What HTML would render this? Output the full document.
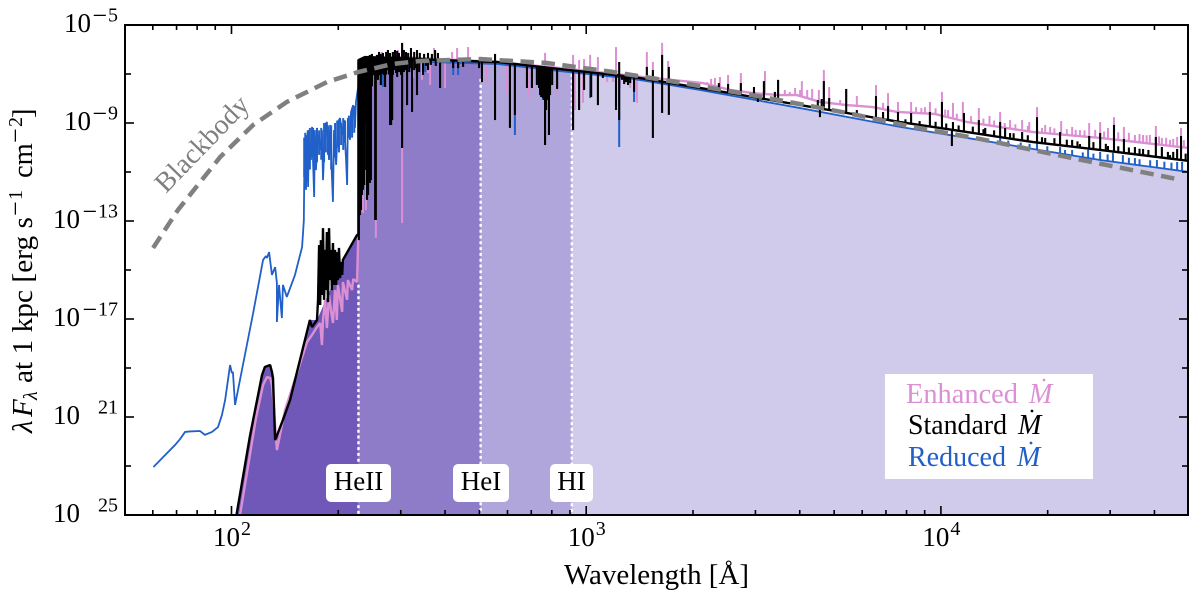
<!DOCTYPE html>
<html lang="en">
<head>
<meta charset="utf-8">
<title>Spectral energy distribution</title>
<style>
html,body{margin:0;padding:0;background:#fff;width:1200px;height:604px;overflow:hidden}
svg{display:block}
text{font-family:"Liberation Serif","DejaVu Serif",serif;fill:#000}
</style>
</head>
<body>
<svg id="chart" xmlns="http://www.w3.org/2000/svg" width="1200" height="604" viewBox="0 0 1200 604">
<defs><clipPath id="plot-clip"><rect x="125" y="25" width="1063" height="490"/></clipPath><clipPath id="shade-clip"><path id="shade-path" d=""/></clipPath></defs>
<g id="marks" clip-path="url(#plot-clip)"></g>
<g id="axes"></g>
<g>
<rect x="326" y="464" width="65" height="38" rx="5" fill="#fff"/>
<text x="358.5" y="490" font-size="27" text-anchor="middle">HeII</text>
<rect x="453" y="464" width="56" height="38" rx="5" fill="#fff"/>
<text x="481" y="490" font-size="27" text-anchor="middle">HeI</text>
<rect x="550" y="464" width="43" height="38" rx="5" fill="#fff"/>
<text x="571.5" y="490" font-size="27" text-anchor="middle">HI</text>
</g>
<text transform="translate(166,194) rotate(-46)" font-size="28" textLength="122" lengthAdjust="spacingAndGlyphs" style="fill:#808080">Blackbody</text>
<g>
<rect x="885" y="374" width="208" height="105" fill="#fff"/>
<text x="906" y="403" font-size="28" textLength="112" lengthAdjust="spacingAndGlyphs" style="fill:#dc90d4">Enhanced</text>
<text x="1029" y="403" font-size="28" font-style="italic" style="fill:#dc90d4">M</text>
<circle cx="1044" cy="380" r="1.4" fill="#dc90d4"/>
<text x="908" y="434" font-size="28" textLength="99" lengthAdjust="spacingAndGlyphs">Standard</text>
<text x="1018" y="434" font-size="28" font-style="italic">M</text>
<circle cx="1032" cy="411" r="1.4" fill="#000"/>
<text x="908" y="466" font-size="28" textLength="98" lengthAdjust="spacingAndGlyphs" style="fill:#2060c8">Reduced</text>
<text x="1017" y="466" font-size="28" font-style="italic" style="fill:#2060c8">M</text>
<circle cx="1031" cy="443" r="1.4" fill="#2060c8"/>
</g>
<text x="564" y="584" font-size="28.5" textLength="185" lengthAdjust="spacingAndGlyphs">Wavelength [Å]</text>
<g>
<text transform="translate(32,433) rotate(-90)" font-size="29" font-style="italic">λ</text>
<text transform="translate(32,417) rotate(-90)" font-size="29" font-style="italic">F</text>
<text transform="translate(37,400) rotate(-90)" font-size="20" font-style="italic">λ</text>
<text transform="translate(32,383) rotate(-90)" font-size="28.5" textLength="166" lengthAdjust="spacingAndGlyphs">at 1 kpc [erg s</text>
<text transform="translate(24,216) rotate(-90)" font-size="26">−</text>
<text transform="translate(22,200) rotate(-90)" font-size="20">1</text>
<text transform="translate(32,178) rotate(-90)" font-size="28.5">cm</text>
<text transform="translate(24,143) rotate(-90)" font-size="26">−</text>
<text transform="translate(22,127) rotate(-90)" font-size="20">2</text>
<text transform="translate(32,118) rotate(-90)" font-size="28.5">]</text>
</g>
</svg>
<script>
// Axis tick data
const xTickExp = [2, 3, 4];
const xMinorTicks = [60, 70, 80, 90, 200, 300, 400, 500, 600, 700, 800, 900, 2000, 3000, 4000, 5000, 6000, 7000, 8000, 9000, 20000, 30000, 40000];
const yTickExp = [-5, -9, -13, -17, -21, -25];
const yMinorExp = [-7, -11, -15, -19, -23];
// Ionization edges in Angstrom
const edgeWavelengths = [228, 504, 911];
const edgeDotTopFlux = [-15.6, -7.2, -7.0];
const bandColors = ['#7058b8', '#8e7cc8', '#b1a6dc', '#d0cbea'];
// Blackbody (log wavelength, log flux)
const blackbodyLogL = [1.779, 1.849, 1.968, 2.061, 2.156, 2.269, 2.357, 2.455, 2.531, 2.701, 2.889, 3.076, 3.256, 3.498, 3.735, 3.921, 4.110, 4.356, 4.666];
const blackbodyLogF = [-14.10, -12.55, -10.39, -9.08, -8.14, -7.33, -6.92, -6.59, -6.47, -6.39, -6.55, -6.92, -7.33, -7.94, -8.59, -9.16, -9.65, -10.39, -11.29];
// Shaded envelope
const shadeLogL = [2.014, 2.052, 2.086, 2.094, 2.109, 2.114, 2.117, 2.123, 2.145, 2.165, 2.221, 2.241, 2.278, 2.314, 2.354, 2.358, 2.358, 2.475, 2.749, 2.926, 3.132, 3.321, 3.603, 3.885, 4.074, 4.260, 4.449, 4.70];
const shadeLogF = [-25, -21.78, -19.29, -18.96, -18.88, -19.16, -19.41, -21.94, -21.12, -20.31, -17.04, -17.04, -15.82, -14.67, -13.57, -13.57, -6.43, -6.35, -6.51, -6.80, -7.12, -7.65, -8.39, -9.16, -9.61, -10.06, -10.51, -11.00];
// Reduced mass-loss spectrum
const reducedLogL = [1.780, 1.813, 1.841, 1.855, 1.869, 1.883, 1.911, 1.925, 1.945, 1.962, 1.973, 1.982, 1.996, 2.001, 2.004, 2.010, 2.061, 2.089, 2.097, 2.100, 2.106, 2.114, 2.123, 2.128, 2.128, 2.134, 2.142, 2.145, 2.156, 2.179, 2.199, 2.204, 2.204, 2.206, 2.210, 2.213, 2.216, 2.218, 2.224, 2.227, 2.233, 2.235, 2.238, 2.244, 2.250, 2.255, 2.258, 2.264, 2.269, 2.275, 2.278, 2.283, 2.286, 2.289, 2.295, 2.300, 2.306, 2.312, 2.317, 2.323, 2.326, 2.328, 2.334, 2.337, 2.343, 2.348, 2.351, 2.357, 2.362, 2.749, 2.926, 3.132, 3.321, 3.603, 3.885, 4.074, 4.260, 4.449, 4.70];
const reducedLogF = [-23.04, -22.55, -22.14, -21.90, -21.61, -21.59, -21.57, -21.73, -21.61, -21.41, -20.92, -20.31, -18.88, -19.20, -19.16, -20.51, -16.76, -14.59, -14.43, -14.51, -14.27, -15.20, -14.88, -15.53, -17.12, -15.61, -16.96, -15.61, -16.10, -15.20, -14.06, -12.96, -12.84, -9.90, -11.73, -9.49, -11.61, -9.29, -10.51, -9.16, -12.02, -9.29, -10.92, -9.49, -10.10, -9.29, -11.33, -9.08, -8.96, -10.51, -9.08, -11.12, -12.22, -9.29, -10.71, -8.96, -8.80, -9.49, -8.88, -10.51, -11.53, -8.80, -9.69, -8.55, -8.27, -9.20, -8.14, -7.53, -6.43, -6.59, -6.88, -7.20, -7.65, -8.39, -9.16, -9.61, -10.06, -10.51, -11.00];
const reducedLineLogL = [2.427, 2.546, 2.625, 2.639, 2.799, 2.878, 3.011, 3.093, 3.135, 4.167, 4.271, 4.336, 4.370, 4.415, 4.449, 4.485, 4.513, 4.547, 4.609, 4.666, 4.680, 4.19, 4.225, 4.25, 4.30, 4.35, 4.40, 4.43, 4.47, 4.53, 4.56, 4.59, 4.63, 4.65];
const reducedLineLogF = [-7.53, -6.92, -7.04, -7.04, -9.49, -8.06, -7.98, -9.98, -8.14, -9.61, -9.78, -9.98, -10.10, -10.10, -10.18, -10.22, -10.31, -10.43, -10.51, -10.59, -10.59, -9.72, -9.80, -9.85, -9.95, -10.10, -10.20, -10.25, -10.28, -10.42, -10.48, -10.52, -10.58, -10.62];
// Densely packed lines in the reduced-spectrum forest below the HeII edge
const reducedForestLogL = [2.205, 2.208, 2.212, 2.215, 2.221, 2.230, 2.241, 2.247, 2.253, 2.261, 2.266, 2.272, 2.281, 2.292, 2.298, 2.303, 2.309, 2.315, 2.320, 2.331, 2.340, 2.346];
const reducedForestLowLogF = [-11.2, -10.8, -11.0, -10.6, -10.9, -10.4, -10.6, -10.3, -10.5, -10.6, -10.2, -10.3, -10.9, -10.4, -10.0, -10.2, -9.9, -10.1, -9.8, -9.6, -9.6, -9.4];
const reducedForestHighLogF = [-9.6, -9.4, -9.5, -9.3, -9.2, -9.2, -9.2, -9.3, -9.2, -9.0, -9.0, -9.1, -9.1, -9.0, -8.9, -8.9, -9.0, -8.8, -8.9, -8.7, -8.4, -8.3];
// Enhanced mass-loss spectrum
const enhancedLogL = [2.024, 2.069, 2.089, 2.100, 2.109, 2.114, 2.120, 2.128, 2.151, 2.213, 2.227, 2.241, 2.250, 2.255, 2.258, 2.264, 2.269, 2.275, 2.281, 2.286, 2.292, 2.297, 2.300, 2.312, 2.314, 2.326, 2.328, 2.340, 2.343, 2.354, 2.357, 2.358, 2.475, 2.749, 2.926, 3.132, 3.329, 3.406, 3.470, 3.546, 3.594, 3.659, 3.735, 3.808, 3.876, 3.983, 4.074, 4.260, 4.449, 4.70];
const enhancedLogF = [-25, -21.04, -19.69, -19.37, -19.41, -19.69, -20.71, -22.35, -20.71, -17.94, -17.65, -17.33, -17.16, -18.06, -17.04, -16.22, -17.37, -16.02, -16.71, -17.16, -15.82, -17.04, -15.61, -16.71, -15.49, -16.22, -15.41, -15.82, -15.37, -15.49, -13.78, -6.43, -6.31, -6.51, -6.76, -7.08, -7.37, -7.65, -7.78, -7.86, -7.86, -8.14, -8.27, -8.35, -8.55, -8.63, -8.96, -9.37, -9.61, -10.02];
const enhancedLineLogL = [2.424, 2.469, 2.481, 2.571, 2.622, 2.636, 2.667, 2.884, 2.963, 2.980, 2.994, 3.011, 3.033, 3.084, 3.171, 3.188, 3.214, 3.231, 3.329, 3.341, 3.352, 3.363, 3.377, 3.400, 3.436, 3.504, 3.541, 3.608, 3.623, 3.637, 3.656, 3.670, 3.685, 3.716, 3.733, 3.763, 3.817, 3.837, 3.851, 3.879, 3.916, 3.969, 4.003, 4.034, 4.062, 4.107, 4.167, 4.195, 4.229, 4.271, 4.308, 4.339, 4.370, 4.418, 4.449, 4.488, 4.516, 4.547, 4.570, 4.606, 4.623, 4.666, 4.677, 3.945, 4.020, 4.137, 4.249, 4.294, 4.392, 4.471, 4.589, 4.646, 3.560, 3.574, 3.589, 3.603, 2.379, 2.388, 2.371, 2.407, 2.481, 2.560, 2.602, 2.512, 2.537, 2.554, 2.720, 2.777, 2.836, 2.850, 2.918, 2.968, 2.991, 3.059, 3.076, 3.095, 3.124, 3.143, 3.93, 3.955, 3.985, 4.012, 4.045, 4.085, 4.12, 4.15, 4.18, 4.21, 4.245, 4.285, 4.32, 4.355, 4.38, 4.405, 4.435, 4.46, 4.50, 4.53, 4.56, 4.58, 4.615, 4.635, 4.655, 4.685];
const enhancedLineLogF = [-6.10, -6.02, -5.94, -5.94, -6.10, -5.94, -5.90, -6.14, -6.22, -6.43, -6.39, -6.22, -6.31, -5.90, -6.10, -6.51, -5.73, -6.47, -7.33, -7.33, -7.20, -7.16, -7.12, -7.04, -6.96, -6.88, -7.24, -7.29, -7.65, -7.61, -7.65, -6.84, -7.53, -8.06, -7.61, -7.90, -7.45, -8.18, -7.78, -8.14, -8.14, -8.14, -7.73, -8.18, -8.14, -8.39, -8.55, -8.88, -8.88, -8.35, -9.16, -8.92, -9.16, -9.00, -8.96, -8.76, -9.16, -9.49, -9.49, -9.12, -9.61, -9.57, -9.20, -8.39, -8.47, -8.71, -8.96, -9.08, -9.29, -9.20, -9.49, -9.69, -7.65, -7.73, -7.57, -7.65, -12.55, -11.12, -12.67, -13.69, -13.08, -7.45, -7.57, -7.16, -7.24, -6.96, -7.37, -7.78, -7.94, -7.73, -7.78, -8.47, -8.18, -7.33, -7.33, -7.57, -7.57, -8.18, -8.35, -8.35, -8.40, -8.45, -8.62, -8.72, -8.82, -8.90, -9.00, -9.05, -9.12, -9.20, -9.22, -9.25, -9.28, -9.30, -9.28, -9.35, -9.38, -9.40, -9.45, -9.50, -9.55, -9.60, -9.65, -9.70];
// Standard mass-loss spectrum
const standardLogL = [2.014, 2.052, 2.086, 2.094, 2.109, 2.114, 2.117, 2.123, 2.145, 2.165, 2.221, 2.227, 2.241, 2.244, 2.247, 2.250, 2.252, 2.255, 2.258, 2.261, 2.264, 2.266, 2.269, 2.272, 2.275, 2.278, 2.281, 2.283, 2.286, 2.289, 2.292, 2.295, 2.297, 2.300, 2.303, 2.306, 2.309, 2.312, 2.314, 2.354, 2.358, 2.358, 2.376, 2.475, 2.588, 2.749, 2.926, 3.132, 3.321, 3.603, 3.885, 4.074, 4.260, 4.449, 4.70];
const standardLogF = [-25, -21.78, -19.29, -18.96, -18.88, -19.16, -19.41, -21.94, -21.12, -20.31, -17.04, -17.33, -17.04, -16.22, -13.98, -16.43, -13.78, -16.02, -13.29, -16.22, -14.18, -15.82, -13.45, -16.31, -13.29, -15.41, -14.18, -15.82, -13.90, -15.61, -14.18, -15.61, -14.27, -15.41, -14.10, -15.33, -14.67, -15.20, -14.59, -13.57, -13.57, -6.43, -6.31, -6.35, -6.43, -6.51, -6.80, -7.12, -7.57, -8.27, -8.96, -9.37, -9.78, -10.10, -10.55];
const standardLineLogL = [2.359, 2.362, 2.365, 2.368, 2.371, 2.374, 2.376, 2.382, 2.385, 2.390, 2.393, 2.405, 2.407, 2.413, 2.421, 2.433, 2.447, 2.450, 2.453, 2.467, 2.481, 2.495, 2.509, 2.523, 2.540, 2.554, 2.588, 2.625, 2.639, 2.653, 2.698, 2.706, 2.743, 2.785, 2.799, 2.833, 2.847, 2.861, 2.867, 2.870, 2.873, 2.875, 2.878, 2.881, 2.884, 2.887, 2.889, 2.892, 2.895, 2.898, 2.904, 2.918, 2.963, 2.980, 2.994, 3.014, 3.033, 3.084, 3.093, 3.135, 3.188, 3.214, 3.233, 3.101, 3.107, 3.112, 3.118, 3.124, 3.047, 3.484, 3.659, 3.589, 4.031, 2.481, 2.743, 3.093, 3.171, 3.188, 3.214, 3.233, 2.382, 2.390, 2.396, 2.405, 2.410, 2.416, 2.421, 2.427, 2.436, 2.441, 2.447, 2.455, 2.461, 2.467, 2.472, 2.486, 2.492, 2.498, 2.506, 2.515, 2.523, 2.531, 2.543, 2.554, 2.565, 2.574, 2.582, 2.399, 2.419, 2.430, 2.439, 2.444, 2.455, 2.458, 2.464, 2.472, 2.478, 2.486, 2.489, 2.501, 2.503, 2.515, 2.520, 2.529, 2.548, 2.562, 2.576, 3.374, 3.400, 3.436, 3.473, 3.501, 3.532, 3.541, 3.653, 3.664, 3.670, 3.685, 3.733, 3.763, 3.817, 3.837, 3.851, 3.879, 3.916, 3.969, 4.003, 4.034, 4.065, 4.107, 4.167, 4.181, 4.229, 4.271, 4.336, 4.370, 4.418, 4.449, 4.488, 4.516, 4.547, 4.570, 4.606, 4.623, 4.666, 4.677, 4.125, 4.195, 4.294, 4.392, 4.471, 4.589, 4.646, 2.379, 2.388, 2.396, 2.400, 2.402, 2.411, 2.416, 2.424, 2.436, 3.90, 3.94, 3.985, 4.015, 4.05, 4.09, 4.12, 4.15, 4.205, 4.245, 4.285, 4.32, 4.355, 4.385, 4.43, 4.465, 4.50, 4.53, 4.56, 4.585, 4.64, 4.655, 4.69];
const standardLineLogF = [-13.78, -12.76, -12.55, -11.94, -11.73, -11.53, -10.92, -12.14, -11.94, -11.45, -11.33, -12.96, -12.96, -7.24, -7.45, -7.53, -9.08, -9.08, -8.88, -7.12, -10.02, -8.27, -8.55, -7.86, -7.04, -6.84, -7.57, -6.76, -6.76, -6.71, -6.76, -7.33, -8.88, -9.20, -8.67, -7.57, -7.57, -7.45, -7.57, -7.86, -7.94, -7.86, -7.98, -8.06, -9.90, -8.47, -8.06, -8.06, -9.49, -7.86, -7.45, -7.61, -9.29, -8.47, -7.65, -7.94, -8.27, -8.47, -8.88, -7.73, -9.61, -8.59, -8.67, -7.24, -7.41, -7.33, -7.45, -7.37, -7.16, -8.14, -8.76, -8.18, -9.94, -5.73, -6.18, -6.51, -6.71, -6.84, -6.22, -6.71, -6.27, -6.22, -6.18, -6.31, -6.22, -6.10, -6.18, -6.14, -6.10, -6.02, -6.14, -6.10, -6.02, -6.06, -6.14, -6.02, -6.10, -6.14, -5.94, -6.10, -6.02, -6.14, -6.18, -6.14, -6.18, -6.02, -6.14, -6.84, -6.92, -7.04, -6.84, -7.02, -7.04, -6.84, -6.96, -6.92, -7.04, -6.92, -6.84, -6.92, -6.76, -6.84, -6.76, -6.92, -6.67, -6.63, -6.67, -7.37, -7.41, -7.37, -7.53, -7.29, -7.73, -7.24, -8.06, -8.02, -7.29, -7.98, -7.61, -8.47, -7.90, -8.55, -8.31, -8.55, -8.59, -8.55, -8.14, -8.96, -8.59, -8.88, -8.96, -9.20, -9.37, -8.76, -9.37, -9.69, -9.53, -9.41, -9.08, -9.65, -9.98, -10.06, -9.57, -9.98, -10.06, -9.53, -9.20, -9.41, -9.61, -9.86, -9.94, -10.31, -10.31, -9.00, -9.20, -7.50, -7.05, -7.00, -7.10, -7.05, -7.00, -7.02, -8.85, -8.92, -8.95, -9.02, -9.10, -9.15, -9.25, -9.30, -9.42, -9.50, -9.58, -9.62, -9.68, -9.75, -9.78, -9.85, -9.95, -10.00, -10.05, -10.10, -10.18, -10.18, -10.25];

// Axis functions
const SVGNS = 'http://www.w3.org/2000/svg';
function xScale(logL) { return 231.5 + (logL - 2) * 354.7; }
function yScale(logF) { return 25 + (-5 - logF) * 24.5; }
function pathFrom(ls, fs) {
  let d = '';
  for (let i = 0; i < ls.length; i++) {
    d += (i ? 'L' : 'M') + xScale(ls[i]).toFixed(2) + ' ' + yScale(fs[i]).toFixed(2);
  }
  return d;
}
function fluxAt(l, ls, fs) {
  for (let i = ls.length - 2; i >= 0; i--) {
    if (l >= ls[i] && l <= ls[i + 1] && ls[i + 1] > ls[i]) {
      return fs[i] + (fs[i + 1] - fs[i]) * (l - ls[i]) / (ls[i + 1] - ls[i]);
    }
  }
  return fs[fs.length - 1];
}
function make(tag, attrs, parent) {
  const el = document.createElementNS(SVGNS, tag);
  for (const k in attrs) el.setAttribute(k, attrs[k]);
  parent.appendChild(el);
  return el;
}
const marks = document.getElementById('marks');
const axes = document.getElementById('axes');

// Shaded ionization bands
document.getElementById('shade-path').setAttribute('d', pathFrom(shadeLogL, shadeLogF) + 'L' + xScale(shadeLogL[shadeLogL.length - 1]) + ' 520L' + xScale(shadeLogL[0]) + ' 520Z');
const bandEdges = [Math.log10(50)].concat(edgeWavelengths.map(Math.log10), [Math.log10(50000)]);
const bands = make('g', { 'clip-path': 'url(#shade-clip)' }, marks);


for (let i = 0; i < bandColors.length; i++) {
  const r = make('rect', { x: xScale(bandEdges[i]), y: 20, width: xScale(bandEdges[i + 1]) - xScale(bandEdges[i]), height: 500, fill: bandColors[i] }, bands);
  
  
}
// Edge dotted lines
for (let i = 0; i < edgeWavelengths.length; i++) {
  const ex = xScale(Math.log10(edgeWavelengths[i]));
  const e = make('line', { x1: ex, x2: ex, y1: yScale(edgeDotTopFlux[i]), y2: 515, stroke: '#fff', 'stroke-width': 2.4, 'stroke-dasharray': '3 2.8' }, marks);
  
  
}
// Spectra
function drawSeries(name, ls, fs, lineLs, lineFs, color, w, lw) {
  const g = make('g', { fill: 'none', stroke: color, 'stroke-linejoin': 'bevel' }, marks);
  
  
  const p = make('path', { d: pathFrom(ls, fs), 'stroke-width': w }, g);
  
  
  for (let i = 0; i < lineLs.length; i++) {
    const x = xScale(lineLs[i]);
    const l = make('line', { x1: x, x2: x, y1: yScale(fluxAt(lineLs[i], ls, fs)), y2: yScale(lineFs[i]), 'stroke-width': lw }, g);
    
    
  }
  return g;
}
drawSeries('enhanced-spectrum', enhancedLogL, enhancedLogF, enhancedLineLogL, enhancedLineLogF, '#dc90d4', 2.4, 2);
const reducedGroup = drawSeries('reduced-spectrum', reducedLogL, reducedLogF, reducedLineLogL, reducedLineLogF, '#2060c8', 1.8, 2);
for (let i = 0; i < reducedForestLogL.length; i++) {
  const fx = xScale(reducedForestLogL[i]);
  const f = make('line', { x1: fx, x2: fx, y1: yScale(reducedForestLowLogF[i]), y2: yScale(reducedForestHighLogF[i]), 'stroke-width': 2 }, reducedGroup);
  
  
}
drawSeries('standard-spectrum', standardLogL, standardLogF, standardLineLogL, standardLineLogF, '#000000', 2.4, 2.1);
const bb = make('path', { d: pathFrom(blackbodyLogL, blackbodyLogF), fill: 'none', stroke: '#808080', 'stroke-width': 4.5, 'stroke-dasharray': '13.5 7.5' }, marks);



// Axes frame and ticks
function tick(name, x1, y1, x2, y2) {
  const t = make('line', { x1: x1, y1: y1, x2: x2, y2: y2, stroke: '#000', 'stroke-width': 1.6 }, axes);
  
  
}
for (const v of xTickExp) {
  const x = xScale(v);
  tick('x-major-tick', x, 515, x, 506);
  tick('x-major-tick-top', x, 25, x, 34);
}
for (const v of xMinorTicks) {
  const x = xScale(Math.log10(v));
  tick('x-minor-tick', x, 515, x, 510);
  tick('x-minor-tick-top', x, 25, x, 30);
}
for (const v of yTickExp) {
  const y = yScale(v);
  tick('y-major-tick', 125, y, 134, y);
  tick('y-major-tick-right', 1188, y, 1179, y);
}
for (const v of yMinorExp) {
  const y = yScale(v);
  tick('y-minor-tick', 125, y, 131, y);
  tick('y-minor-tick-right', 1188, y, 1182, y);
}
const frame = make('rect', { x: 125, y: 25, width: 1063, height: 490, fill: 'none', stroke: '#000', 'stroke-width': 2 }, axes);



function label(name, x, y, size, anchor, str) {
  const t = make('text', { x: x, y: y, 'font-size': size, 'text-anchor': anchor }, axes);
  
  
  t.textContent = str;
}
for (const v of xTickExp) {
  const x = xScale(v);
  label('x-tick-label', x - 18.5, 546, 27, 'start', '10');
  label('x-tick-exponent', x + 9.5, 535, 20, 'start', String(v));
}
for (const v of yTickExp) {
  const y = yScale(v);
  const digits = String(Math.abs(v));
  label('y-tick-label', digits.length > 1 ? 80 : 91, y + 7, 27, 'end', '10');
  label('y-tick-exponent', 118, y - 3.5, 20, 'end', digits);
  if (v > -20) {
    label('y-tick-minus', 117 - 10 * digits.length, y - 1, 26, 'end', '−');
  }
}
</script>
</body>
</html>
